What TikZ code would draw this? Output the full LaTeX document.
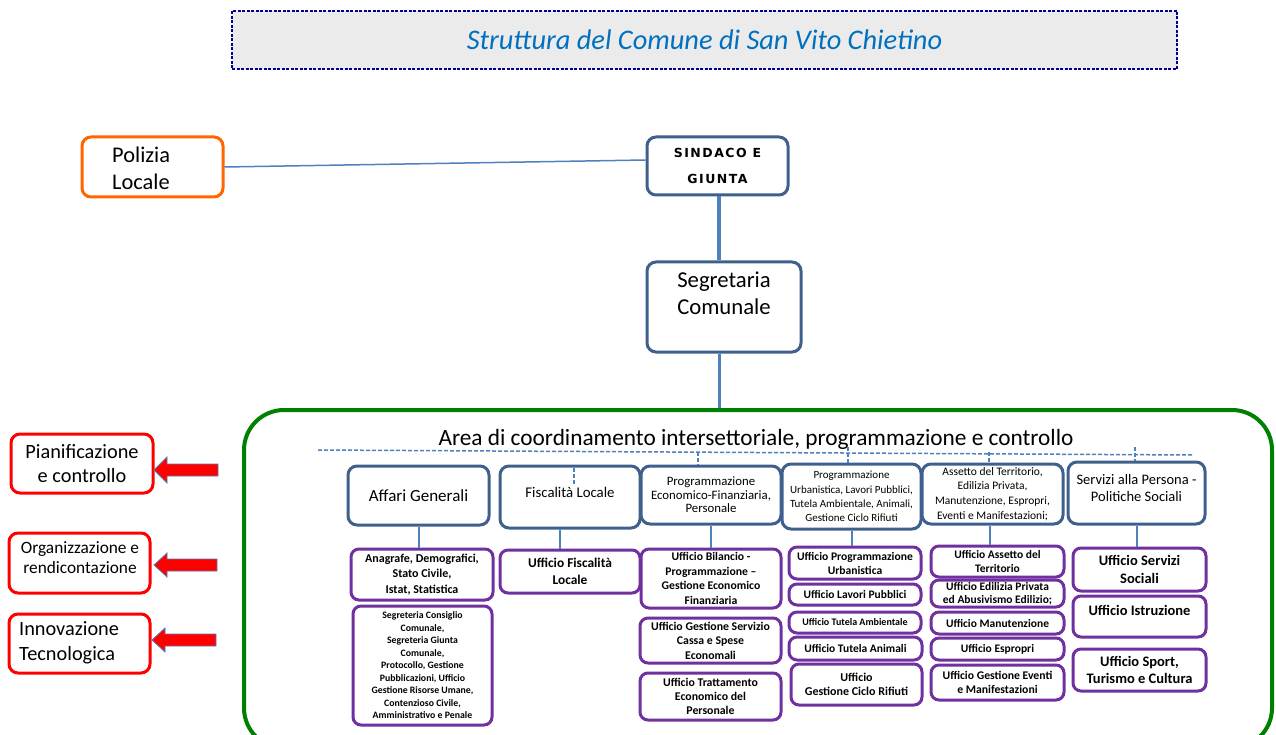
\documentclass[tikz,border=0pt]{standalone}
\usepackage{fontspec}
\setmainfont{Carlito}
\newfontfamily\verdfont[LetterSpace=12]{DejaVu Sans}
\definecolor{boxblue}{RGB}{63,96,140}
\definecolor{linkblue}{RGB}{79,129,189}
\definecolor{offpurple}{RGB}{112,48,160}
\definecolor{areagreen}{RGB}{0,128,0}
\definecolor{polorange}{RGB}{255,102,0}
\definecolor{titlenavy}{RGB}{0,0,150}
\definecolor{titlefill}{RGB}{235,235,235}
\definecolor{titletext}{RGB}{0,112,192}
\begin{document}
\begin{tikzpicture}[x=1pt,y=-1pt,
  nf/.style 2 args={font=\fontsize{#1}{#2}\selectfont},
  pf/.style 2 args={font=\bfseries\fontsize{#1}{#2}\selectfont},
  bbox/.style={draw=boxblue,line width=3pt,rounded corners=9pt,fill=white,inner sep=1pt,align=center},
  pbox/.style={draw=offpurple,line width=3pt,rounded corners=8pt,fill=white,inner sep=0.5pt,align=center},
  rbox/.style={draw=red,line width=3pt,rounded corners=9pt,fill=white,inner sep=1pt,align=center},
  link/.style={draw=linkblue,line width=2pt},
  dlink/.style={draw=linkblue,line width=1.5pt,dash pattern=on 4pt off 2pt},
  redarrow/.style={fill=red,draw=linkblue,line width=0.8pt},
  txt/.style={inner sep=0pt,align=center}
]
\useasboundingbox (0,0) rectangle (1276,735);
\clip (0,0) rectangle (1276,735);
\fill[white] (0,0) rectangle (1276,735);

% title
\node[draw=titlenavy,line width=2.5pt,dash pattern=on 3pt off 1.5pt,fill=titlefill,
      minimum width=945,minimum height=58,inner sep=0pt,
      font=\itshape\fontsize{28.4}{32}\selectfont,text=titletext] (title) at (704.5,40) {Struttura del Comune di San Vito Chietino};

% green area
\node[draw=areagreen,line width=4pt,rounded corners=40pt,minimum width=1028,minimum height=338,inner sep=0pt] (area) at (758,579) {};
\node[txt,nf={23.3}{27}] (areat) at (756,439) {Area di coordinamento intersettoriale, programmazione e controllo};

% top
\node[draw=polorange,line width=3pt,rounded corners=9pt,fill=white,minimum width=141,minimum height=60] (pol) at (152.5,167) {};
\node[txt,align=left,anchor=west,nf={22.4}{27}] (polt) at (112,168) {Polizia\\Locale};
\node[bbox,minimum width=141,minimum height=58,font=\verdfont\bfseries\fontsize{12.5}{26}\selectfont] (sind) at (717.5,166) {SINDACO E\\GIUNTA};
\node[bbox,minimum width=154,minimum height=90] (segr) at (724,307) {};
\node[txt,nf={22.7}{27}] (segrt) at (724,293) {Segretaria\\Comunale};

\draw[draw=linkblue,line width=1.5pt] (pol.east) -- ([yshift=6pt]sind.west);
\coordinate (sp) at (719,0);
\draw[link,line width=4pt] (sp |- sind.south) -- (sp |- segr.north);
\draw[link,line width=3pt] (sp |- segr.south) -- (sp |- area.north);

% left red boxes
\node[rbox,minimum width=142,minimum height=59,nf={20.3}{23.3}] (pian) at (82,463.5) {Pianificazione\\e controllo};
\node[rbox,minimum width=141,minimum height=60] (org) at (79.5,563) {};
\node[txt,nf={17.3}{19.7}] (orgt) at (80,557.5) {Organizzazione e\\rendicontazione};
\node[rbox,minimum width=141,minimum height=59] (inn) at (79.5,643.5) {};
\node[txt,align=left,anchor=west,nf={20.3}{24.7}] (innt) at (19,643) {Innovazione\\Tecnologica};

\draw[redarrow] (218,464) -- (167,464) -- (167,457) -- (154,470) -- (167,483) -- (167,476) -- (218,476) -- cycle;
\draw[redarrow] (217,559) -- (167,559) -- (167,553) -- (154,565) -- (167,577) -- (167,571) -- (217,571) -- cycle;
\draw[redarrow] (216,634) -- (165,634) -- (165,628) -- (152,640) -- (165,652) -- (165,646) -- (216,646) -- cycle;

% columns
\node[bbox,minimum width=141,minimum height=59,nf={17}{20}] (c1) at (418.5,495.5) {Affari Generali};
\node[bbox,minimum width=140,minimum height=62] (c2) at (570,497) {};
\node[txt,nf={14.8}{17}] (c2t) at (570,492) {Fiscalità Locale};
\node[bbox,minimum width=140,minimum height=58,nf={12.8}{13.5}] (c3) at (711,495) {Programmazione\\Economico-Finanziaria,\\Personale};
\node[bbox,minimum width=139,minimum height=65,nf={11}{14.3}] (c4) at (851.5,496.5) {Programmazione\\Urbanistica, Lavori Pubblici,\\Tutela Ambientale, Animali,\\Gestione Ciclo Rifiuti};
\node[bbox,minimum width=141,minimum height=60,nf={11.5}{14.7}] (c5) at (992.5,494) {Assetto del Territorio,\\Edilizia Privata,\\Manutenzione, Espropri,\\Eventi e Manifestazioni;};
\node[bbox,minimum width=137,minimum height=62] (c6) at (1136.5,493) {};
\node[txt,nf={14.5}{17}] (c6t) at (1136.5,488.5) {Servizi alla Persona -\\Politiche Sociali};

% dashed coordination line
\coordinate (dl1) at (318,450);
\coordinate (dl2) at (1193,455);
\draw[dlink] (dl1) -- (dl2);
\coordinate (t3) at (698,452);
\coordinate (t4) at (848,447);
\coordinate (t5) at (989,452);
\coordinate (t6) at (1135,447);
\draw[dlink] (t3) -- (t3 |- c3.north);
\draw[dlink] (t4) -- (t4 |- c4.north);
\draw[dlink] (t5) -- (t5 |- c5.north);
\draw[dlink] (t6) -- (t6 |- c6.north);
\coordinate (t2) at (574,468);
\draw[dlink] (t2) -- ++(0,17);

% offices
\node[pbox,minimum width=142,minimum height=51,pf={12}{15.5}] (p11) at (422,574.5) {Anagrafe, Demografici,\\Stato Civile,\\Istat, Statistica};
\node[pbox,minimum width=139,minimum height=119,pf={9.8}{12.5}] (p12) at (422.5,665.5) {Segreteria Consiglio\\Comunale,\\Segreteria Giunta\\Comunale,\\Protocollo, Gestione\\Pubblicazioni, Ufficio\\Gestione Risorse Umane,\\Contenzioso Civile,\\Amministrativo e Penale};
\node[pbox,minimum width=140,minimum height=43,pf={13.4}{17}] (p21) at (570,571.5) {Ufficio Fiscalità\\Locale};
\node[pbox,minimum width=140,minimum height=59,pf={11.7}{14.5}] (p31) at (711,578.5) {Ufficio Bilancio -\\Programmazione –\\Gestione Economico\\Finanziaria};
\node[pbox,minimum width=141,minimum height=45,pf={11.8}{14.5}] (p32) at (710.5,640.5) {Ufficio Gestione Servizio\\Cassa e Spese\\Economali};
\node[pbox,minimum width=141,minimum height=47,pf={11.8}{14}] (p33) at (710.5,696.5) {Ufficio Trattamento\\Economico del\\Personale};
\node[pbox,minimum width=132,minimum height=32,pf={11.6}{14}] (p41) at (855,563) {Ufficio Programmazione\\Urbanistica};
\node[pbox,minimum width=132,minimum height=21,pf={11.5}{12}] (p42) at (855,594.5) {Ufficio Lavori Pubblici};
\node[pbox,minimum width=132,minimum height=21,pf={10}{11}] (p43) at (855,622.5) {Ufficio Tutela Ambientale};
\node[pbox,minimum width=133,minimum height=23,pf={11.5}{12}] (p44) at (855.5,648.5) {Ufficio Tutela Animali};
\node[pbox,minimum width=131,minimum height=41,pf={12}{14}] (p45) at (856.5,684.5) {Ufficio\\Gestione Ciclo Rifiuti};
\node[pbox,minimum width=133,minimum height=31,pf={11.5}{14}] (p51) at (997.5,561.5) {Ufficio Assetto del\\Territorio};
\node[pbox,minimum width=133,minimum height=27,pf={11.5}{13.5}] (p52) at (997.5,593.5) {Ufficio Edilizia Privata\\ed Abusivismo Edilizio;};
\node[pbox,minimum width=133,minimum height=22,pf={11.5}{12}] (p53) at (997.5,623) {Ufficio Manutenzione};
\node[pbox,minimum width=133,minimum height=22,pf={11.5}{12}] (p54) at (997.5,649) {Ufficio Espropri};
\node[pbox,minimum width=133,minimum height=35,pf={11.7}{13.5}] (p55) at (997.5,682.5) {Ufficio Gestione Eventi\\e Manifestazioni};
\node[pbox,minimum width=133,minimum height=43,pf={14.5}{18}] (p61) at (1139.5,569.5) {Ufficio Servizi\\Sociali};
\node[pbox,minimum width=133,minimum height=41] (p62) at (1139.5,616.5) {};
\node[txt,pf={14.5}{16}] (p62t) at (1139.5,610) {Ufficio Istruzione};
\node[pbox,minimum width=133,minimum height=42,pf={14.5}{17.5}] (p63) at (1139.5,670) {Ufficio Sport,\\Turismo e Cultura};

% column connectors
\draw[link] (c1.south) -- (c1.south |- p11.north);
\draw[link] ([xshift=-10pt]c2.south) -- ([xshift=-10pt]c2.south |- p21.north);
\draw[link] (c3.south) -- (c3.south |- p31.north);
\draw[link] (c4.south) -- (c4.south |- p41.north);
\draw[link] ([xshift=-3pt]c5.south) -- ([xshift=-3pt]c5.south |- p51.north);
\draw[link] (c6.south) -- (c6.south |- p61.north);
\end{tikzpicture}
\end{document}
